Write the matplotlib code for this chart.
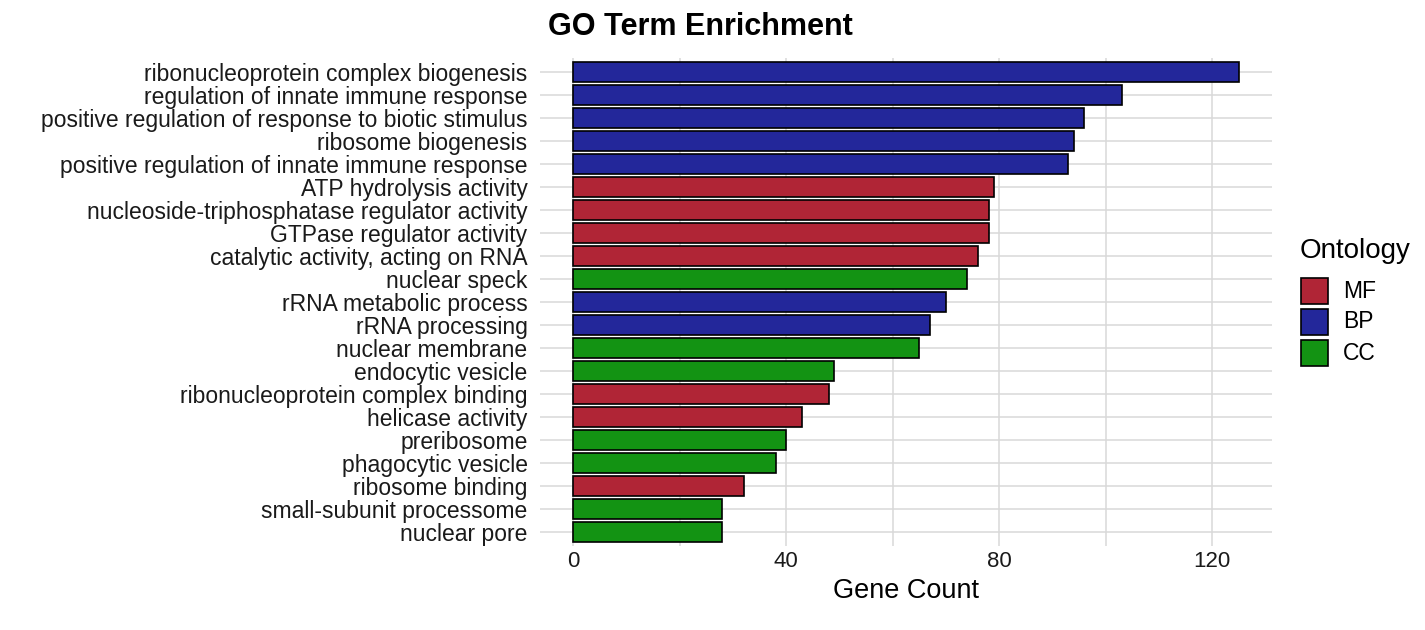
import matplotlib
matplotlib.use("Agg")
import matplotlib.pyplot as plt
from matplotlib.patches import Rectangle

terms = ["ribonucleoprotein complex biogenesis","regulation of innate immune response",
 "positive regulation of response to biotic stimulus","ribosome biogenesis",
 "positive regulation of innate immune response","ATP hydrolysis activity",
 "nucleoside-triphosphatase regulator activity","GTPase regulator activity",
 "catalytic activity, acting on RNA","nuclear speck","rRNA metabolic process",
 "rRNA processing","nuclear membrane","endocytic vesicle","ribonucleoprotein complex binding",
 "helicase activity","preribosome","phagocytic vesicle","ribosome binding",
 "small-subunit processome","nuclear pore"]
counts = [125,103,96,94,93,79,78,78,76,74,70,67,65,49,48,43,40,38,32,28,28]
onto = ["BP","BP","BP","BP","BP","MF","MF","MF","MF","CC","BP","BP","CC","CC","MF","MF","CC","CC","MF","CC","CC"]
colors = {"MF":"#B02536","BP":"#23279A","CC":"#139313"}
legend_order = ["MF","BP","CC"]

plt.rcParams['font.family'] = ['Liberation Sans','DejaVu Sans']
fig = plt.figure(figsize=(14.25,6.3), dpi=100)
ax = fig.add_axes([0.379,0.1337,0.5136,0.7739])
n = len(terms)
ys = [n-i for i in range(n)]
ax.barh(ys, counts, height=0.9, color=[colors[o] for o in onto], edgecolor='black', linewidth=1.2, zorder=3)
ax.set_xlim(-6.25,131.25)
ax.set_ylim(0.4, n+0.6)
ax.set_yticks(ys)
ax.set_yticklabels(terms, fontsize=16.5, color='#1a1a1a')
ax.set_xticks([0,40,80,120])
ax.set_xticks([20,60,100], minor=True)
ax.tick_params(axis='x', labelsize=16, length=0, which='both', colors='#1a1a1a', pad=4)
ax.tick_params(axis='y', length=0, pad=9)
ax.grid(True, which='major', color='#d9d9d9', linewidth=1.1, zorder=0)
ax.grid(True, which='minor', axis='x', color='#d9d9d9', linewidth=1.1, zorder=0)
for s in ax.spines.values(): s.set_visible(False)
ax.set_xlabel("Gene Count", fontsize=19.5, labelpad=4)
fig.text(700/1425, 1-27/630, "GO Term Enrichment", fontsize=22, fontweight='bold', ha='center', va='center')
fig.text(1300/1425, 1-251/630, "Ontology", fontsize=20, ha='left', va='center')
for i, k in enumerate(legend_order):
    yc = 1 - (291 + i*31)/630
    fig.add_artist(Rectangle((1301/1425, yc-13/630), 27/1425, 26/630, transform=fig.transFigure,
                             facecolor=colors[k], edgecolor='black', linewidth=1.2))
    fig.text(1343/1425, yc, k, fontsize=16.5, ha='left', va='center')
fig.savefig("out.png", dpi=100)
